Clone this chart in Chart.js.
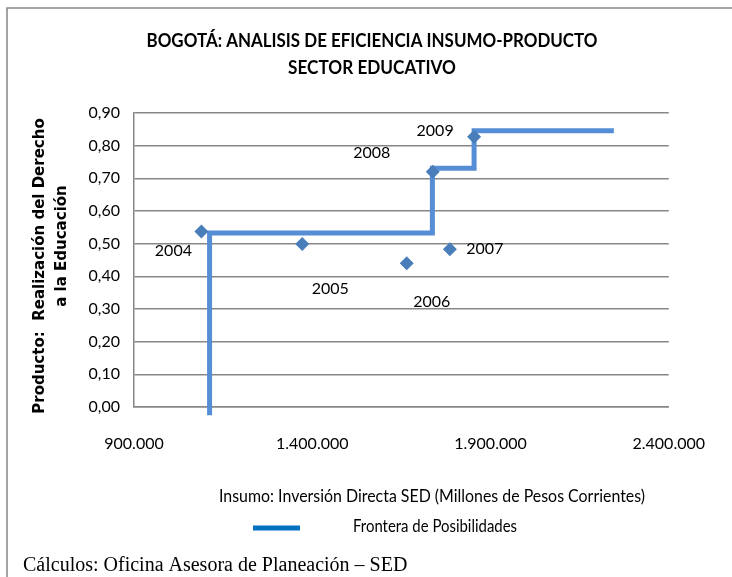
<!DOCTYPE html>
<html>
<head>
<meta charset="utf-8">
<script src="https://cdn.jsdelivr.net/npm/chart.js@4/dist/chart.umd.min.js"></script>
<style>
    html, body { margin: 0; padding: 0; background: #fff; }
    #wrap { position: relative; width: 732px; height: 577px; }
</style>
</head>
<body>
<div id="wrap"><canvas id="grafico" width="732" height="577"></canvas></div>
<script>
// datos
const anios = ['2004', '2005', '2006', '2007', '2008', '2009'];
const insumo = [1089000, 1372000, 1665000, 1786000, 1738000, 1854000];
const producto = [0.537, 0.499, 0.440, 0.483, 0.720, 0.827];

// frontera de posibilidades (esquinas del escalon)
const fronteraX = [1112000, 1112000, 1737000, 1737000, 1854000, 1854000, 2246000];
const fronteraY = [-0.025, 0.533, 0.533, 0.731, 0.731, 0.846, 0.846];

const ticksX = [900000, 1400000, 1900000, 2400000];
const ticksY = [0, 0.1, 0.2, 0.3, 0.4, 0.5, 0.6, 0.7, 0.8, 0.9];

// desplazamiento de las etiquetas de año (px)
const offsetsEtiquetas = [[-28, 19], [28, 45], [25, 39], [35, 0], [-61, -19], [-39, -6]];

const fuenteTexto = 'Lato, "Open Sans", "Liberation Sans", sans-serif';

function formatoMiles(v) {
    return Math.round(v).toString().replace(/\B(?=(\d{3})+(?!\d))/g, '.');
}

// escribe un texto comprimido horizontalmente hasta el ancho pedido
function textoAjustado(ctx, texto, x, y, ancho) {
    const w = ctx.measureText(texto).width;
    ctx.save();
    ctx.translate(x, y);
    ctx.scale(ancho / w, 1);
    ctx.fillText(texto, 0, 0);
    ctx.restore();
}

const decoracion = {
    id: 'decoracion',
    afterDraw(chart) {
        const ctx = chart.ctx;
        const xs = chart.scales.x;
        const ys = chart.scales.y;
        ctx.save();

        // marco
        ctx.strokeStyle = '#878787';
        ctx.lineWidth = 1.5;
        ctx.beginPath();
        ctx.moveTo(7, 577);
        ctx.lineTo(7, 8);
        ctx.lineTo(732, 8);
        ctx.stroke();

        // titulo
        ctx.fillStyle = '#000';
        ctx.textAlign = 'center';
        ctx.textBaseline = 'middle';
        ctx.font = 'bold 18px ' + fuenteTexto;
        textoAjustado(ctx, 'BOGOTÁ: ANALISIS DE EFICIENCIA INSUMO-PRODUCTO', 372, 41, 451);
        textoAjustado(ctx, 'SECTOR EDUCATIVO', 372, 68, 168);

        // titulo eje y
        ctx.font = 'bold 15px "DejaVu Sans", Verdana, sans-serif';
        ctx.save();
        ctx.translate(40, 266);
        ctx.rotate(-Math.PI / 2);
        ctx.fillText('Producto:  Realización del Derecho', 0, 0);
        ctx.restore();
        ctx.save();
        ctx.translate(62, 246);
        ctx.rotate(-Math.PI / 2);
        ctx.fillText('a la Educación', 0, 0);
        ctx.restore();

        // titulo eje x
        ctx.font = '17px ' + fuenteTexto;
        textoAjustado(ctx, 'Insumo: Inversión Directa SED (Millones de Pesos Corrientes)', 432, 497, 426);

        // leyenda
        const serie = chart.data.datasets[0];
        ctx.strokeStyle = '#0070c0';
        ctx.lineWidth = 5;
        ctx.beginPath();
        ctx.moveTo(253, 528);
        ctx.lineTo(300, 528);
        ctx.stroke();
        ctx.font = '17px ' + fuenteTexto;
        textoAjustado(ctx, serie.label, 435, 527, 164);

        // etiquetas de año
        ctx.font = '16px ' + fuenteTexto;
        anios.forEach((a, i) => {
            const px = xs.getPixelForValue(insumo[i]) + offsetsEtiquetas[i][0];
            const py = ys.getPixelForValue(producto[i]) + offsetsEtiquetas[i][1];
            ctx.fillText(a, px, py);
        });

        // fuente
        ctx.textAlign = 'left';
        ctx.textBaseline = 'alphabetic';
        ctx.font = '20px "Liberation Serif", "Times New Roman", serif';
        ctx.fillText('Cálculos: Oficina Asesora de Planeación – SED', 23, 571);
        ctx.restore();
    }
};

new Chart(document.getElementById('grafico'), {
    type: 'scatter',
    data: {
        datasets: [{
            type: 'line',
            label: 'Frontera de Posibilidades',
            data: fronteraX.map((x, i) => ({ x: x, y: fronteraY[i] })),
            borderColor: '#558ed5',
            borderWidth: 5,
            pointRadius: 0,
            fill: false,
            tension: 0,
            clip: false,
            order: 2
        }, {
            label: 'SED',
            data: insumo.map((x, i) => ({ x: x, y: producto[i] })),
            pointStyle: 'rectRot',
            pointRadius: 7,
            backgroundColor: '#4a7ebb',
            borderColor: '#4a7ebb',
            borderWidth: 0,
            order: 1
        }]
    },
    options: {
        responsive: false,
        animation: false,
        devicePixelRatio: 1,
        layout: { padding: { left: 84, right: 49, top: 113, bottom: 110 } },
        plugins: {
            legend: { display: false },
            title: { display: false },
            tooltip: { enabled: false }
        },
        scales: {
            x: {
                type: 'linear',
                min: ticksX[0],
                max: ticksX[ticksX.length - 1],
                afterFit(s) { s.height = 60; },
                afterBuildTicks(s) { s.ticks = ticksX.map(v => ({ value: v })); },
                grid: { display: false, drawTicks: false },
                border: { display: true, color: '#878787', width: 1.5 },
                ticks: {
                    padding: 27,
                    color: '#000',
                    font: { family: fuenteTexto, size: 16 },
                    maxRotation: 0,
                    callback: v => formatoMiles(v)
                }
            },
            y: {
                min: ticksY[0],
                max: ticksY[ticksY.length - 1],
                afterFit(s) { s.width = 50; },
                afterBuildTicks(s) { s.ticks = ticksY.map(v => ({ value: v })); },
                grid: { color: '#878787', lineWidth: 1.5, drawTicks: false },
                border: { display: true, color: '#878787', width: 1.5 },
                ticks: {
                    padding: 14,
                    color: '#000',
                    font: { family: fuenteTexto, size: 16 },
                    callback: v => v.toFixed(2).replace('.', ',')
                }
            }
        }
    },
    plugins: [decoracion]
});
</script>
</body>
</html>
